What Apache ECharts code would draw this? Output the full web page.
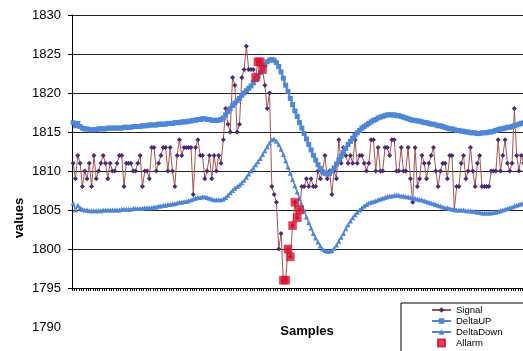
<!DOCTYPE html>
<html>
<head>
<meta charset="utf-8">
<script src="https://cdn.jsdelivr.net/npm/echarts@6/dist/echarts.min.js"></script>
<style>
  html, body { margin: 0; padding: 0; background: #fff; }
  #chart { width: 523px; height: 351px; }
</style>
</head>
<body>
<div id="chart"></div>
<script>
// values
var signal = [
  1811,1809,1812,1811,1808,1810,1809,1811,1808,1812,
  1809,1810,1811,1812,1811,1809,1811,1810,1810,1811,
  1812,1812,1808,1811,1811,1811,1810,1810,1811,1812,
  1808,1810,1810,1809,1813,1813,1810,1811,1812,1813,
  1813,1810,1813,1810,1808,1812,1814,1812,1813,1813,
  1813,1813,1807,1813,1814,1812,1812,1809,1810,1812,
  1809,1812,1810,1812,1811,1814,1818,1816,1815,1822,
  1821,1815,1816,1822,1823,1826,1823,1823,1823,1822,
  1824,1824,1823,1821,1818,1820,1808,1807,1806,1800,
  1802,1796,1796,1800,1799,1803,1806,1804,1805,1808,
  1808,1809,1808,1809,1808,1808,1810,1809,1810,1812,
  1809,1810,1807,1810,1809,1814,1811,1813,1812,1811,
  1812,1811,1814,1811,1812,1812,1811,1810,1811,1814,
  1814,1810,1813,1810,1810,1813,1813,1812,1814,1814,
  1810,1810,1813,1810,1810,1813,1809,1806,1813,1808,
  1809,1812,1811,1809,1811,1812,1813,1810,1808,1810,
  1811,1811,1809,1812,1812,1805,1808,1808,1811,1812,
  1809,1810,1813,1810,1808,1811,1812,1808,1808,1808,
  1808,1810,1810,1810,1814,1810,1812,1814,1811,1810,
  1811,1818,1812,1810,1812,1811,1810,1812,1809,1811
];

var deltaUp = [
  1816.2,1815.8,1816.1,1815.7,1815.5,1815.4,1815.4,1815.3,1815.3,1815.3,
  1815.3,1815.4,1815.4,1815.4,1815.4,1815.5,1815.5,1815.5,1815.5,1815.5,
  1815.5,1815.5,1815.6,1815.6,1815.6,1815.6,1815.7,1815.7,1815.7,1815.7,
  1815.8,1815.8,1815.8,1815.9,1815.9,1815.9,1815.9,1816.0,1816.0,1816.0,
  1816.0,1816.1,1816.1,1816.1,1816.2,1816.2,1816.2,1816.3,1816.3,1816.3,
  1816.4,1816.4,1816.5,1816.5,1816.6,1816.6,1816.7,1816.7,1816.6,1816.6,
  1816.5,1816.5,1816.5,1816.5,1816.6,1816.8,1817.2,1817.6,1818.0,1818.4,
  1818.7,1819.0,1819.3,1819.7,1820.0,1820.3,1820.6,1820.9,1821.3,1821.7,
  1822.1,1822.6,1823.1,1823.6,1824.0,1824.2,1824.3,1824.2,1823.9,1823.4,
  1822.7,1821.9,1821.0,1820.2,1819.3,1818.5,1817.7,1817.0,1816.2,1815.5,
  1814.8,1814.1,1813.4,1812.7,1812.0,1811.4,1810.8,1810.3,1809.9,1809.7,
  1809.6,1809.7,1810.0,1810.4,1810.9,1811.4,1811.9,1812.4,1812.9,1813.4,
  1813.8,1814.2,1814.6,1814.9,1815.2,1815.5,1815.7,1815.9,1816.1,1816.3,
  1816.5,1816.6,1816.8,1816.9,1817.0,1817.1,1817.2,1817.2,1817.2,1817.2,
  1817.1,1817.1,1817.0,1816.9,1816.8,1816.7,1816.6,1816.5,1816.5,1816.4,
  1816.4,1816.3,1816.2,1816.2,1816.1,1816.0,1816.0,1815.9,1815.8,1815.8,
  1815.7,1815.6,1815.5,1815.4,1815.4,1815.3,1815.2,1815.2,1815.1,1815.1,
  1815.0,1815.0,1814.9,1814.9,1814.9,1814.8,1814.8,1814.9,1814.9,1814.9,
  1815.0,1815.0,1815.1,1815.2,1815.3,1815.4,1815.4,1815.5,1815.6,1815.6,
  1815.7,1815.8,1815.9,1816.0,1816.1,1816.2,1816.2,1816.3,1816.3,1816.4
];

var deltaDown = [
  1805.9,1805.0,1805.6,1805.3,1805.1,1805.0,1805.0,1804.9,1804.9,1804.9,
  1804.9,1804.9,1804.9,1805.0,1805.0,1805.0,1805.0,1805.0,1805.0,1805.0,
  1805.0,1805.1,1805.1,1805.1,1805.1,1805.1,1805.2,1805.2,1805.2,1805.2,
  1805.2,1805.3,1805.3,1805.3,1805.3,1805.4,1805.4,1805.5,1805.5,1805.6,
  1805.6,1805.7,1805.7,1805.8,1805.8,1805.9,1806.0,1806.0,1806.1,1806.1,
  1806.2,1806.3,1806.4,1806.5,1806.6,1806.6,1806.7,1806.7,1806.6,1806.5,
  1806.4,1806.3,1806.3,1806.3,1806.3,1806.4,1806.6,1806.9,1807.2,1807.5,
  1807.8,1808.0,1808.2,1808.5,1808.8,1809.2,1809.6,1810.0,1810.4,1810.8,
  1811.2,1811.6,1812.1,1812.6,1813.1,1813.6,1814.0,1814.1,1813.8,1813.4,
  1812.8,1812.1,1811.3,1810.5,1809.7,1808.9,1808.1,1807.3,1806.5,1805.7,
  1804.9,1804.1,1803.4,1802.7,1802.0,1801.4,1800.9,1800.4,1800.0,1799.8,
  1799.7,1799.7,1799.8,1800.1,1800.5,1801.0,1801.5,1802.0,1802.6,1803.1,
  1803.6,1804.0,1804.4,1804.7,1805.0,1805.3,1805.5,1805.7,1805.9,1806.0,
  1806.1,1806.2,1806.3,1806.4,1806.5,1806.6,1806.7,1806.8,1806.8,1806.9,
  1806.9,1806.9,1806.8,1806.8,1806.7,1806.7,1806.6,1806.5,1806.5,1806.4,
  1806.3,1806.3,1806.2,1806.1,1806.0,1805.9,1805.8,1805.7,1805.6,1805.5,
  1805.4,1805.3,1805.3,1805.2,1805.1,1805.1,1805.0,1805.0,1805.0,1805.0,
  1804.9,1804.9,1804.9,1804.8,1804.8,1804.7,1804.7,1804.6,1804.6,1804.6,
  1804.6,1804.6,1804.7,1804.7,1804.8,1804.9,1805.0,1805.1,1805.2,1805.3,
  1805.4,1805.5,1805.6,1805.7,1805.8,1805.9,1805.9,1806.0,1806.0,1806.1
];

// alarm points: sample index and value
var allarmIndex = [79, 80, 81, 82, 91, 92, 93, 94, 95, 96, 97, 98];
var allarmValue = [1822, 1824, 1824, 1823, 1796, 1796, 1800, 1799, 1803, 1806, 1804, 1805];

var samples = signal.map(function (v, i) { return i + 1; });

var yMin = 1795, yMax = 1830, yStep = 5;
var yLow = 1790;   // label shown under the axis

var chartDom = document.getElementById('chart');
var myChart = echarts.init(chartDom);

var blue = '#4f86d6';
var font = 'Liberation Sans';

var option = {
  backgroundColor: '#fff',
  animation: false,
  grid: [
    { left: 72, top: 15, width: 462, height: 273, outerBoundsMode: 'none' },
    { left: 72, top: 288, width: 462, height: 39, outerBoundsMode: 'none' }
  ],
  legend: {
    orient: 'vertical',
    left: 401,
    top: 303,
    height: 70,
    borderColor: '#000',
    borderWidth: 1,
    borderRadius: 0,
    padding: [2, 30, 4, 30],
    itemWidth: 19,
    itemHeight: 7,
    itemGap: 1,
    symbolKeepAspect: true,
    textStyle: { fontSize: 9.5, color: '#000', fontFamily: font },
    data: [
      'Signal', 'DeltaUP', 'DeltaDown',
      { name: 'Allarm', icon: 'path://M0,0h10v10h-10z' }
    ]
  },
  xAxis: [
    {
      type: 'category',
      data: samples,
      boundaryGap: true,
      axisLine: { show: true, lineStyle: { color: '#000', width: 1 } },
      axisTick: { show: true, interval: 0, length: 3, lineStyle: { color: '#000' } },
      axisLabel: { show: false },
      splitLine: { show: false },
      name: 'Samples',
      nameLocation: 'middle',
      nameGap: 37,
      nameTextStyle: {
        fontWeight: 'bold', fontSize: 13, color: '#000', fontFamily: font,
        padding: [0, 0, 0, 8]
      }
    },
    { gridIndex: 1, type: 'category', data: samples, show: false }
  ],
  yAxis: [
    {
      type: 'value',
      min: yMin,
      max: yMax,
      interval: yStep,
      axisLine: { show: true, lineStyle: { color: '#000' } },
      axisTick: { show: true, length: 4, lineStyle: { color: '#000' } },
      axisLabel: {
        fontSize: 13, color: '#000', fontFamily: font, margin: 11,
        formatter: function (v) { return String(v); }
      },
      splitLine: { show: true, lineStyle: { color: '#222', width: 1 } }
    },
    {
      gridIndex: 1,
      type: 'value',
      min: yLow,
      max: yMin,
      interval: yStep,
      axisLine: { show: false },
      axisTick: { show: false },
      splitLine: { show: false },
      axisLabel: {
        fontSize: 13, color: '#000', fontFamily: font, margin: 11,
        formatter: function (v) { return v === yLow ? String(v) : ''; }
      }
    }
  ],
  series: [
    {
      name: 'Signal',
      type: 'line',
      data: signal,
      symbol: 'diamond',
      symbolSize: 5,
      showAllSymbol: true,
      itemStyle: { color: '#4b2a73' },
      lineStyle: { color: '#a65450', width: 1 },
      z: 2
    },
    {
      name: 'DeltaUP',
      type: 'line',
      data: deltaUp,
      symbol: 'rect',
      symbolSize: 5,
      showAllSymbol: true,
      itemStyle: { color: blue },
      lineStyle: { color: blue, width: 2 },
      z: 3
    },
    {
      name: 'DeltaDown',
      type: 'line',
      data: deltaDown,
      symbol: 'triangle',
      symbolSize: 5,
      showAllSymbol: true,
      itemStyle: { color: blue },
      lineStyle: { color: blue, width: 1.5 },
      z: 3
    },
    {
      name: 'Allarm',
      type: 'scatter',
      data: allarmIndex.map(function (idx, k) { return [idx, allarmValue[k]]; }),
      symbol: 'rect',
      symbolSize: 8,
      itemStyle: { color: '#e3122d', borderColor: '#c40f28', borderWidth: 0.5 },
      z: 4
    }
  ],
  graphic: [
    {
      type: 'text',
      x: 19,
      y: 218,
      rotation: Math.PI / 2,
      style: {
        text: 'values',
        font: 'bold 13px "Liberation Sans"',
        fill: '#000',
        align: 'center',
        verticalAlign: 'middle'
      }
    }
  ]
};

myChart.setOption(option);
</script>
</body>
</html>
